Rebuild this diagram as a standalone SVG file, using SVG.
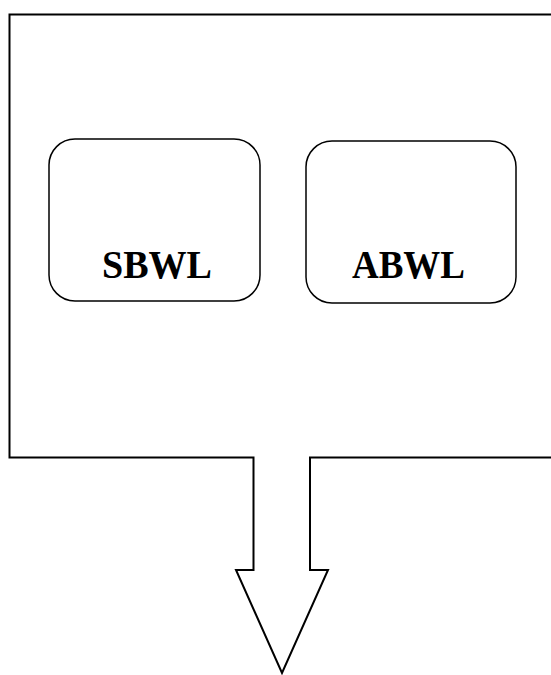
<svg xmlns="http://www.w3.org/2000/svg" width="551" height="675" viewBox="0 0 551 675">
<style>
.shape{fill:#fff;stroke:#000;stroke-width:2}
.box{fill:#fff;stroke:#000;stroke-width:1.5}
.lbl{font-family:"Liberation Serif","DejaVu Serif",serif;font-weight:bold;font-size:40px;fill:#000}
</style>
<rect width="551" height="675" fill="#fff"/>
<g id="callout">
<path class="shape" d="M9.5,14.5 H565 V457.5 H310 V570 H328 L282,673 L236,570 H253.5 V457.5 H9.5 Z"/>
</g>
<g id="sbwl">
<rect class="box" x="49" y="139" width="211" height="162" rx="26"/>
<text class="lbl" x="102" y="278" textLength="110" lengthAdjust="spacingAndGlyphs">SBWL</text>
</g>
<g id="abwl">
<rect class="box" x="306" y="141" width="210" height="162" rx="26"/>
<text class="lbl" x="352" y="278" textLength="113" lengthAdjust="spacingAndGlyphs">ABWL</text>
</g>
<g id="connectors"/>
</svg>
